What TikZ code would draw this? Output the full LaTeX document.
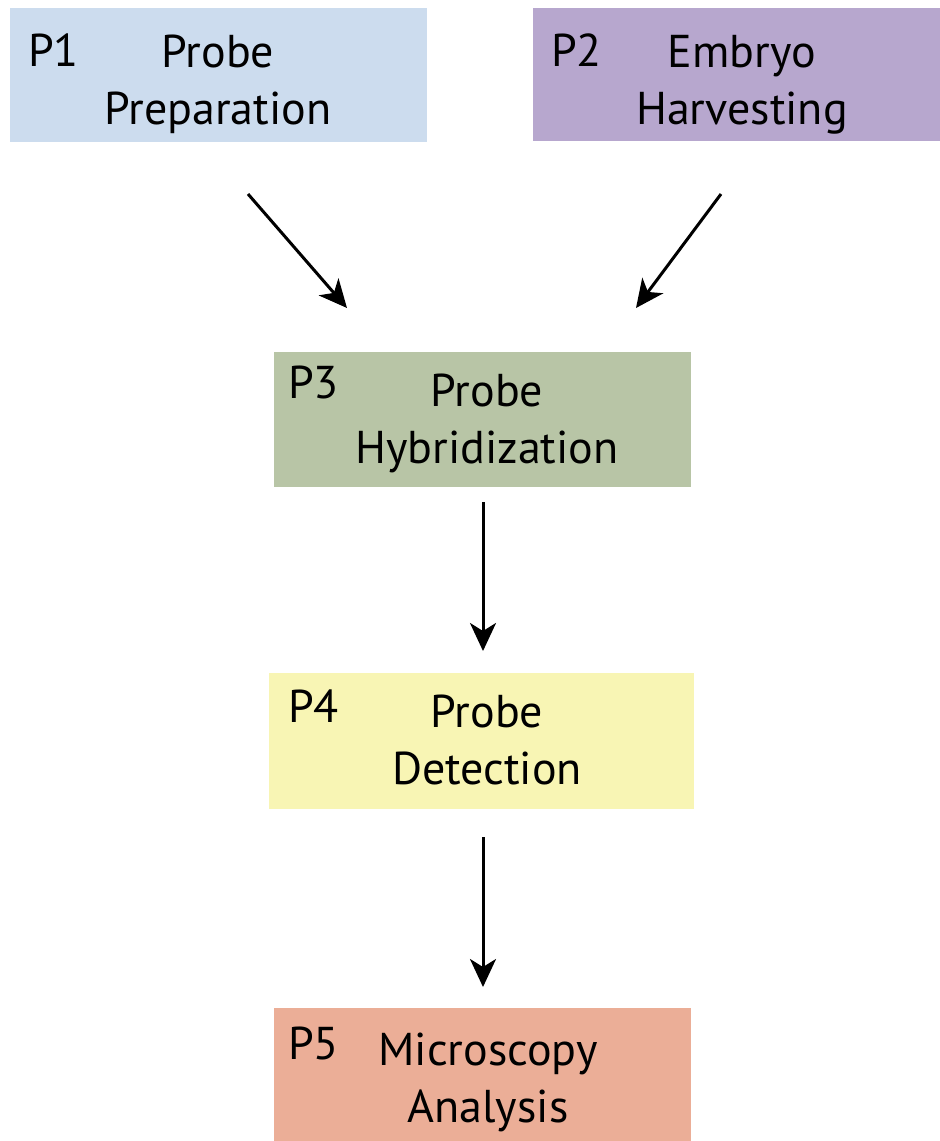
\documentclass[tikz,border=0pt]{standalone}
\usepackage{fontspec}
\setmainfont{PT Sans}
\usetikzlibrary{arrows.meta}
\definecolor{cP1}{HTML}{CCDCEE}
\definecolor{cP2}{HTML}{B7A7CE}
\definecolor{cP3}{HTML}{B8C5A6}
\definecolor{cP4}{HTML}{F8F5B4}
\definecolor{cP5}{HTML}{EBAE97}
\begin{document}
\begin{tikzpicture}[x=1pt,y=-1pt,
  box/.style={draw=none,inner sep=0pt,outer sep=0pt},
  lab/.style={anchor=base west,inner sep=0pt,font=\fontsize{46}{57}\selectfont},
  ttl/.style={anchor=base,inner sep=0pt,align=center,font=\fontsize{46}{57}\selectfont},
  arr/.style={line width=3pt,-{Stealth[length=28pt,width=26pt,inset=8pt]}}]
\useasboundingbox (0,0) rectangle (940,1141);
\fill[cP1] (10,8) rectangle (427,142);
\fill[cP2] (533,8) rectangle (940,141);
\fill[cP3] (274,352) rectangle (691,487);
\fill[cP4] (269,673) rectangle (694,809);
\fill[cP5] (274,1008) rectangle (691,1141);
\node[box] (p1) at (218.5,75) {};
\node[box] (p2) at (736.5,75) {};
\node[box] (p3) at (482.5,419.5) {};
\node[box] (p4) at (481.5,741) {};
\node[box] (p5) at (482.5,1074.5) {};
\node[lab] (l1) at (28,66) {P1};
\node[ttl] (t1) at (218,124) {Probe\\Preparation};
\node[lab] (l2) at (551,66) {P2};
\node[ttl] (t2) at (742,124) {Embryo\\Harvesting};
\node[lab] (l3) at (288,398) {P3};
\node[ttl] (t3) at (487,463) {Probe\\Hybridization};
\node[lab] (l4) at (288,722) {P4};
\node[ttl] (t4) at (487,784) {Probe\\Detection};
\node[lab] (l5) at (288,1059) {P5};
\node[ttl] (t5) at (488,1122) {Microscopy\\Analysis};
\coordinate (a1s) at (248,194);
\coordinate (a1e) at (347,308);
\coordinate (a2s) at (721,194);
\coordinate (a2e) at (636,308);
\coordinate (a3s) at (483,502);
\coordinate (a3e) at (483,651);
\coordinate (a4s) at (483,837);
\coordinate (a4e) at (483,987);
\draw[arr] (a1s) -- (a1e);
\draw[arr] (a2s) -- (a2e);
\draw[arr] (a3s) -- (a3e);
\draw[arr] (a4s) -- (a4e);
\end{tikzpicture}
\end{document}
